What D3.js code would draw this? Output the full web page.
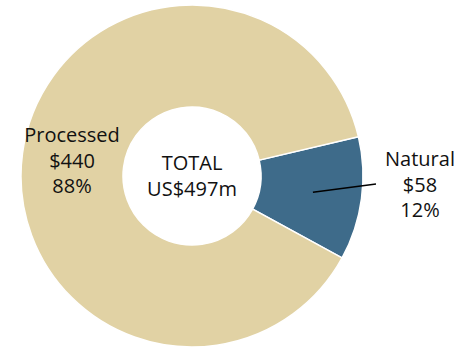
<!DOCTYPE html>
<html>
<head>
<meta charset="utf-8">
<script src="https://cdn.jsdelivr.net/npm/d3@7"></script>
<style>
  body { margin: 0; background: #fff; }
  text { font-family: "Open Sans", "Noto Sans", sans-serif; fill: #111; }
</style>
</head>
<body>
<div id="chart"></div>
<script>
'use strict';

// Data
const categories = ['Natural', 'Processed'];
const values = [58, 440];
const shares = ['12%', '88%'];
const valueLabels = ['$58', '$440'];
const totalLabel = ['TOTAL', 'US$497m'];
const colors = ['#3e6b8a', '#e1d2a4'];

// Config
const w = 463, h = 348;
const cx = 192, cy = 176;
const outerR = 171, innerR = 69;
const startDeg = 76.7;

const svg = d3.select('#chart')
    .append('svg')
    .attr('width', w)
    .attr('height', h);

const g = svg.append('g')
    .attr('transform', `translate(${cx},${cy})`);

const pie = d3.pie()
    .sort(null)
    .startAngle(startDeg * Math.PI / 180)
    .endAngle((startDeg + 360) * Math.PI / 180);

const arcs = pie(values);

const arc = d3.arc()
    .innerRadius(innerR)
    .outerRadius(outerR);

g.selectAll('path.slice')
    .data(arcs)
    .join('path')
    .attr('class', 'slice')
    .attr('d', arc)
    .attr('fill', (d, i) => colors[i])
    .attr('stroke', '#fff')
    .attr('stroke-width', 1.5);

// Centre text
g.selectAll('text.total')
    .data(totalLabel)
    .join('text')
    .attr('class', 'total')
    .attr('text-anchor', 'middle')
    .attr('y', (d, i) => -6 + i * 26)
    .attr('font-size', 20)
    .text(d => d);

// Natural leader line, from slice centroid outwards
const natMid = (arcs[0].startAngle + arcs[0].endAngle) / 2;
const rIn = 122;
const p0 = [Math.sin(natMid) * rIn, -Math.cos(natMid) * rIn];
g.append('line')
    .attr('x1', p0[0])
    .attr('y1', p0[1])
    .attr('x2', 376 - cx)
    .attr('y2', 184 - cy)
    .attr('stroke', '#000')
    .attr('stroke-width', 1.5);

// Labels
const labelPos = [
    {x: 420, y: 166},
    {x: 72, y: 142}
];
categories.forEach((c, i) => {
    const lines = [c, valueLabels[i], shares[i]];
    svg.append('g')
        .selectAll('text')
        .data(lines)
        .join('text')
        .attr('text-anchor', 'middle')
        .attr('x', labelPos[i].x)
        .attr('y', (d, j) => labelPos[i].y + j * 25.5)
        .attr('font-size', 20)
        .text(d => d);
});
</script>
</body>
</html>
